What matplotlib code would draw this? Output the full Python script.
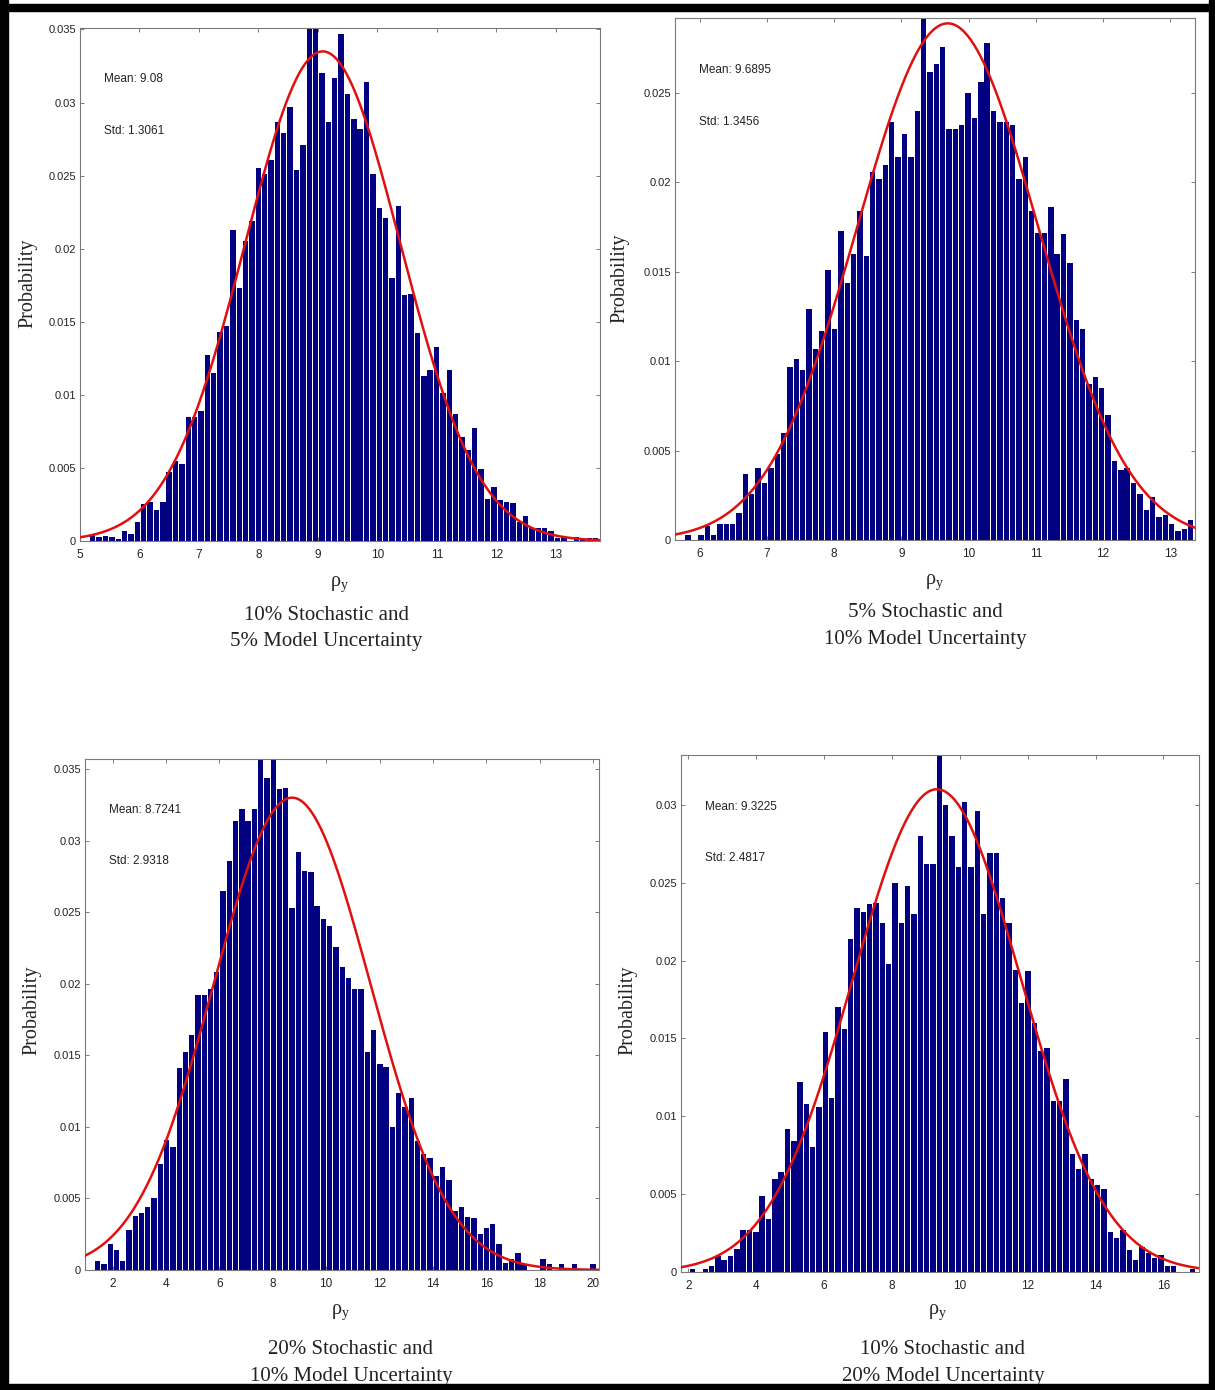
import numpy as np
import matplotlib
matplotlib.use("Agg")
import matplotlib.pyplot as plt
from matplotlib.patches import Rectangle

# ---------------- data ----------------
# Panel 1: 10% stochastic, 5% model
p1_first_center = 5.215
p1_bin_width = 0.107
p1_heights = [0.0004, 0.0003, 0.00035, 0.00025, 0.00015, 0.0007, 0.0005, 0.0013, 0.0025, 0.0027,
              0.0021, 0.0027, 0.0047, 0.0055, 0.0053, 0.0085, 0.0085, 0.0089, 0.0127, 0.0115,
              0.0143, 0.0147, 0.0213, 0.0173, 0.0205, 0.0219, 0.0255, 0.0251, 0.0261, 0.0287,
              0.0279, 0.0297, 0.0254, 0.0271, 0.0352, 0.0352, 0.0320, 0.0287, 0.0317, 0.0347,
              0.0306, 0.0289, 0.0282, 0.0314, 0.0251, 0.0228, 0.0221, 0.0180, 0.0229, 0.0168,
              0.0169, 0.0142, 0.0113, 0.0117, 0.0133, 0.0101, 0.0117, 0.0087, 0.0071, 0.0062,
              0.0077, 0.0049, 0.0029, 0.0037, 0.0028, 0.0027, 0.0026, 0.0013, 0.0017, 0.0009,
              0.0009, 0.0009, 0.0007, 0.0002, 0.0003, 0.0, 0.0003, 0.0001, 0.0002, 0.0002]
p1_mean, p1_std, p1_peak = 9.08, 1.3061, 0.0335
p1_xlim, p1_ylim = (5.0, 13.74), (0.0, 0.0351)
p1_xticks = [5, 6, 7, 8, 9, 10, 11, 12, 13]
p1_yticks = [0, 0.005, 0.01, 0.015, 0.02, 0.025, 0.03, 0.035]
p1_caption = "10% Stochastic and\n5% Model Uncertainty"

# Panel 2: 5% stochastic, 10% model
p2_first_center = 5.826
p2_bin_width = 0.0947
p2_heights = [0.0003, 0.0, 0.0003, 0.0008, 0.0003, 0.0009, 0.0009, 0.0009, 0.0015, 0.0037,
              0.0026, 0.0040, 0.0032, 0.0040, 0.0048, 0.0060, 0.0097, 0.0101, 0.0095, 0.0129,
              0.0107, 0.0117, 0.0151, 0.0118, 0.0173, 0.0144, 0.0160, 0.0184, 0.0159, 0.0206,
              0.0202, 0.0210, 0.0234, 0.0214, 0.0227, 0.0214, 0.0240, 0.0295, 0.0262, 0.0266,
              0.0276, 0.0230, 0.0230, 0.0232, 0.0250, 0.0236, 0.0256, 0.0278, 0.0240, 0.0234,
              0.0234, 0.0232, 0.0202, 0.0214, 0.0184, 0.0172, 0.0172, 0.0186, 0.0160, 0.0171,
              0.0155, 0.0123, 0.0118, 0.0087, 0.0091, 0.0085, 0.0070, 0.0044, 0.0039, 0.0040,
              0.0032, 0.0026, 0.0017, 0.0024, 0.0013, 0.0014, 0.0009, 0.0005, 0.0006, 0.0011]
p2_mean, p2_std, p2_peak = 9.6895, 1.3456, 0.0289
p2_xlim, p2_ylim = (5.63, 13.37), (0.0, 0.0292)
p2_xticks = [6, 7, 8, 9, 10, 11, 12, 13]
p2_yticks = [0, 0.005, 0.01, 0.015, 0.02, 0.025]
p2_caption = "5% Stochastic and\n10% Model Uncertainty"

# Panel 3: 20% stochastic, 10% model
p3_first_center = 1.443
p3_bin_width = 0.2349
p3_heights = [0.0006, 0.0004, 0.0018, 0.0014, 0.0006, 0.0028, 0.0038, 0.0040, 0.0044, 0.0050,
              0.0074, 0.0091, 0.0086, 0.0141, 0.0152, 0.0164, 0.0192, 0.0192, 0.0196, 0.0208,
              0.0265, 0.0286, 0.0314, 0.0322, 0.0314, 0.0322, 0.0356, 0.0344, 0.0358, 0.0336,
              0.0337, 0.0253, 0.0292, 0.0279, 0.0278, 0.0254, 0.0245, 0.0240, 0.0226, 0.0212,
              0.0204, 0.0196, 0.0196, 0.0152, 0.0168, 0.0144, 0.0142, 0.0100, 0.0124, 0.0114,
              0.0120, 0.0090, 0.0081, 0.0078, 0.0066, 0.0072, 0.0063, 0.0041, 0.0044, 0.0037,
              0.0036, 0.0025, 0.0029, 0.0032, 0.0018, 0.0005, 0.0008, 0.0012, 0.0004, 0.0,
              0.0, 0.0008, 0.0004, 0.0, 0.0004, 0.0, 0.0004, 0.0, 0.0, 0.0004]
p3_mean, p3_std, p3_peak = 8.7241, 2.9318, 0.0330
p3_xlim, p3_ylim = (0.97, 20.22), (0.0, 0.0357)
p3_xticks = [2, 4, 6, 8, 10, 12, 14, 16, 18, 20]
p3_yticks = [0, 0.005, 0.01, 0.015, 0.02, 0.025, 0.03, 0.035]
p3_caption = "20% Stochastic and\n10% Model Uncertainty"

# Panel 4: 10% stochastic, 20% model
p4_first_center = 2.12
p4_bin_width = 0.1866
p4_heights = [0.0002, 0.0, 0.0002, 0.0004, 0.0010, 0.0008, 0.0010, 0.0015, 0.0027, 0.0027,
              0.0026, 0.0049, 0.0034, 0.0060, 0.0064, 0.0092, 0.0084, 0.0122, 0.0108, 0.0080,
              0.0106, 0.0154, 0.0112, 0.0170, 0.0156, 0.0214, 0.0234, 0.0231, 0.0236, 0.0237,
              0.0224, 0.0198, 0.0250, 0.0224, 0.0248, 0.0230, 0.0280, 0.0262, 0.0262, 0.0335,
              0.0300, 0.0280, 0.0260, 0.0302, 0.0260, 0.0296, 0.0230, 0.0269, 0.0269, 0.0240,
              0.0224, 0.0194, 0.0173, 0.0193, 0.0160, 0.0142, 0.0144, 0.0110, 0.0110, 0.0124,
              0.0076, 0.0066, 0.0076, 0.0060, 0.0056, 0.0053, 0.0026, 0.0022, 0.0027, 0.0014,
              0.0008, 0.0016, 0.0012, 0.0009, 0.0011, 0.0004, 0.0004, 0.0, 0.0, 0.0002]
p4_mean, p4_std, p4_peak = 9.3225, 2.4817, 0.0310
p4_xlim, p4_ylim = (1.78, 17.05), (0.0, 0.0332)
p4_xticks = [2, 4, 6, 8, 10, 12, 14, 16]
p4_yticks = [0, 0.005, 0.01, 0.015, 0.02, 0.025, 0.03]
p4_caption = "10% Stochastic and\n20% Model Uncertainty"

# ---------------- layout ----------------
W, H = 1215, 1390
fig = plt.figure(figsize=(W / 100, H / 100), dpi=100)
fig.patch.set_facecolor("white")

plt.rcParams["mathtext.fontset"] = "custom"
plt.rcParams["mathtext.rm"] = "Liberation Serif"
plt.rcParams["mathtext.it"] = "Liberation Serif"

SANS = "Liberation Sans"
SERIF = "Liberation Serif"
BAR_COLOR = "#000080"
CURVE_COLOR = "#e01010"
SPINE_COLOR = "#7a7a7a"


def rect(l, r, t, b):
    return [l / W, 1 - b / H, (r - l) / W, (b - t) / H]


def fmt(v):
    return "0" if v == 0 else ("%g" % v)


panels = [
    dict(box=(80, 600, 28, 541), c0=p1_first_center, w=p1_bin_width, h=p1_heights,
         mean=p1_mean, std=p1_std, peak=p1_peak, xlim=p1_xlim, ylim=p1_ylim,
         xt=p1_xticks, yt=p1_yticks, cap=p1_caption, capx=326, capy=(615, 642),
         ylab=(28, 283), xlab=(340, 584)),
    dict(box=(675, 1195, 18, 540), c0=p2_first_center, w=p2_bin_width, h=p2_heights,
         mean=p2_mean, std=p2_std, peak=p2_peak, xlim=p2_xlim, ylim=p2_ylim,
         xt=p2_xticks, yt=p2_yticks, cap=p2_caption, capx=925, capy=(612, 639),
         ylab=(620, 278), xlab=(935, 582)),
    dict(box=(85, 599, 759, 1270), c0=p3_first_center, w=p3_bin_width, h=p3_heights,
         mean=p3_mean, std=p3_std, peak=p3_peak, xlim=p3_xlim, ylim=p3_ylim,
         xt=p3_xticks, yt=p3_yticks, cap=p3_caption, capx=351, capy=(1350, 1377),
         ylab=(32, 1010), xlab=(341, 1312)),
    dict(box=(681, 1199, 755, 1272), c0=p4_first_center, w=p4_bin_width, h=p4_heights,
         mean=p4_mean, std=p4_std, peak=p4_peak, xlim=p4_xlim, ylim=p4_ylim,
         xt=p4_xticks, yt=p4_yticks, cap=p4_caption, capx=943, capy=(1350, 1377),
         ylab=(628, 1010), xlab=(938, 1312)),
]

for p in panels:
    ax = fig.add_axes(rect(*p["box"]))
    heights = np.asarray(p["h"])
    centers = p["c0"] + p["w"] * np.arange(len(heights))
    ax.bar(centers, heights, width=0.85 * p["w"], color=BAR_COLOR, edgecolor="none", zorder=2)
    xs = np.linspace(p["xlim"][0], p["xlim"][1], 500)
    ys = p["peak"] * np.exp(-0.5 * ((xs - p["mean"]) / p["std"]) ** 2)
    ax.plot(xs, ys, color=CURVE_COLOR, lw=1.8, zorder=3)
    ax.set_xlim(*p["xlim"])
    ax.set_ylim(*p["ylim"])
    ax.set_xticks(p["xt"])
    ax.set_xticklabels([str(v) for v in p["xt"]], family=SANS, fontsize=8.5)
    ax.set_yticks(p["yt"])
    ax.set_yticklabels([fmt(v) for v in p["yt"]], family=SANS, fontsize=8)
    ax.tick_params(direction="in", length=3, width=0.7, color=SPINE_COLOR,
                   top=True, right=True, labelcolor="#222222")
    ax.tick_params(axis="x", pad=6)
    ax.tick_params(axis="y", pad=3)
    for s in ax.spines.values():
        s.set_color(SPINE_COLOR)
        s.set_linewidth(0.8)
    ax.text(0.047, 0.90, "Mean: %s" % ("%g" % p["mean"]), transform=ax.transAxes,
            family=SANS, fontsize=8.5, va="center", ha="left", color="#222222")
    ax.text(0.047, 0.80, "Std: %s" % ("%g" % p["std"]), transform=ax.transAxes,
            family=SANS, fontsize=8.5, va="center", ha="left", color="#222222")

    # y label
    fig.text(p["ylab"][0] / W, 1 - p["ylab"][1] / H, "Probability", rotation=90,
             ha="center", va="center", family=SERIF, fontsize=14.5, color="#222222")
    # x label
    fig.text(p["xlab"][0] / W, 1 - p["xlab"][1] / H, r"$\mathrm{\rho_{y}}$",
             ha="center", va="center", fontsize=14.5, color="#222222")
    # caption
    line1, line2 = p["cap"].split("\n")
    fig.text(p["capx"] / W, 1 - p["capy"][0] / H, line1, ha="center", va="center",
             family=SERIF, fontsize=15, color="#222222")
    fig.text(p["capx"] / W, 1 - p["capy"][1] / H, line2, ha="center", va="center",
             family=SERIF, fontsize=15, color="#222222")

# black frame around the whole picture
for (l, r, t, b) in [(0, 8, 0, H), (0, W, 4, 11), (1209, W, 0, H), (0, W, 1384, H)]:
    fig.patches.append(Rectangle((l / W, 1 - b / H), (r - l) / W, (b - t) / H,
                                 transform=fig.transFigure, color="black", zorder=10))

fig.savefig("out.png", dpi=100)
